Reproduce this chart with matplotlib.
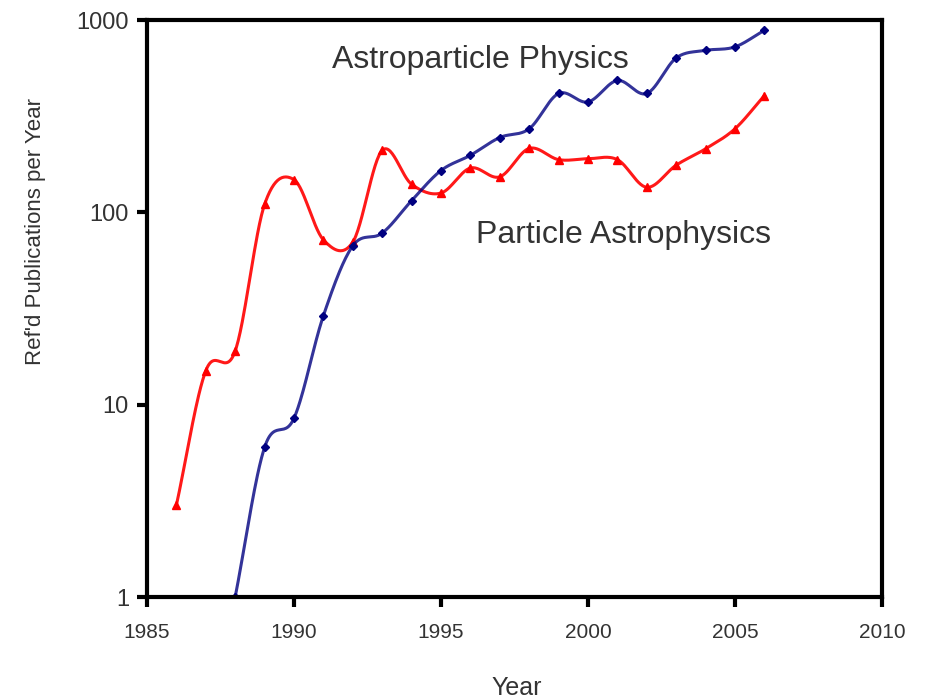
import numpy as np
import matplotlib
matplotlib.use("Agg")
import matplotlib.pyplot as plt

# values
years_red = [1986, 1987, 1988, 1989, 1990, 1991, 1992, 1993, 1994, 1995, 1996,
             1997, 1998, 1999, 2000, 2001, 2002, 2003, 2004, 2005, 2006]
particle_astro = [3, 15, 19, 110, 148, 72, 70, 210, 140, 126, 170,
                  153, 215, 188, 190, 188, 135, 176, 214, 272, 405]

years_blue = [1988, 1989, 1990, 1991, 1992, 1993, 1994, 1995, 1996, 1997,
              1998, 1999, 2000, 2001, 2002, 2003, 2004, 2005, 2006]
astropart_phys = [1, 6, 8.5, 29, 67, 78, 115, 165, 198, 245,
                  272, 415, 375, 485, 415, 635, 695, 725, 885]

y_ticks = [1, 10, 100, 1000]
y_tick_labels = ["1", "10", "100", "1000"]
x_ticks = [1985, 1990, 1995, 2000, 2005, 2010]


def smooth_curve(x, y, n=30):
    """Excel-style smoothed line: Catmull-Rom spline in (x, log10 y)."""
    x = np.asarray(x, float)
    ly = np.log10(np.asarray(y, float))
    px = np.concatenate([[2 * x[0] - x[1]], x, [2 * x[-1] - x[-2]]])
    py = np.concatenate([[2 * ly[0] - ly[1]], ly, [2 * ly[-1] - ly[-2]]])
    xs, ys = [], []
    t = np.linspace(0, 1, n)
    for i in range(1, len(px) - 2):
        p0, p1, p2, p3 = px[i - 1], px[i], px[i + 1], px[i + 2]
        q0, q1, q2, q3 = py[i - 1], py[i], py[i + 1], py[i + 2]
        c1x, c2x = p1 + (p2 - p0) / 6, p2 - (p3 - p1) / 6
        c1y, c2y = q1 + (q2 - q0) / 6, q2 - (q3 - q1) / 6
        bx = (1 - t) ** 3 * p1 + 3 * (1 - t) ** 2 * t * c1x + 3 * (1 - t) * t ** 2 * c2x + t ** 3 * p2
        by = (1 - t) ** 3 * q1 + 3 * (1 - t) ** 2 * t * c1y + 3 * (1 - t) * t ** 2 * c2y + t ** 3 * q2
        xs.append(bx)
        ys.append(by)
    return np.concatenate(xs), 10 ** np.concatenate(ys)


plt.rcParams['font.family'] = ['Liberation Sans', 'DejaVu Sans']

fig = plt.figure(figsize=(9.29, 7.0), dpi=100)
ax = fig.add_axes([0.1582, 0.1471, 0.7912, 0.8243])

red = "#ff0000"
blue = "#000080"

sx, sy = smooth_curve(years_red, particle_astro)
ax.plot(sx, sy, color=red, lw=2.2, alpha=0.9)
ax.plot(years_red, particle_astro, ls="none", marker="^", ms=5.5, color=red)

sx, sy = smooth_curve(years_blue, astropart_phys)
ax.plot(sx, sy, color=blue, lw=2.2, alpha=0.8)
ax.plot(years_blue, astropart_phys, ls="none", marker="D", ms=4.5, color=blue)

ax.set_yscale("log")
ax.set_xlim(1985, 2010)
ax.set_ylim(1, 1000)
ax.set_yticks(y_ticks)
ax.set_yticklabels(y_tick_labels)
ax.yaxis.set_minor_locator(matplotlib.ticker.NullLocator())
ax.set_xticks(x_ticks)
ax.set_xticklabels([str(v) for v in x_ticks])

for s in ax.spines.values():
    s.set_linewidth(3)
ax.tick_params(direction="out", length=7, width=3, labelcolor="#333333")
ax.tick_params(axis="y", labelsize=17, pad=6)
ax.tick_params(axis="x", labelsize=15, pad=12)

ax.text(1991.3, 620, "Astroparticle Physics", fontsize=23, color="#333333",
        va="center", ha="left")
ax.text(1996.2, 76, "Particle Astrophysics", fontsize=23, color="#333333",
        va="center", ha="left")

fig.text(36 / 929, 1 - 231 / 700, "Ref'd Publications per Year", rotation=90,
         ha="center", va="center", fontsize=16, color="#333333")
fig.text(517 / 929, 1 - 688 / 700, "Year", ha="center", va="center",
         fontsize=18, color="#333333")

fig.savefig("out.png", dpi=100)
